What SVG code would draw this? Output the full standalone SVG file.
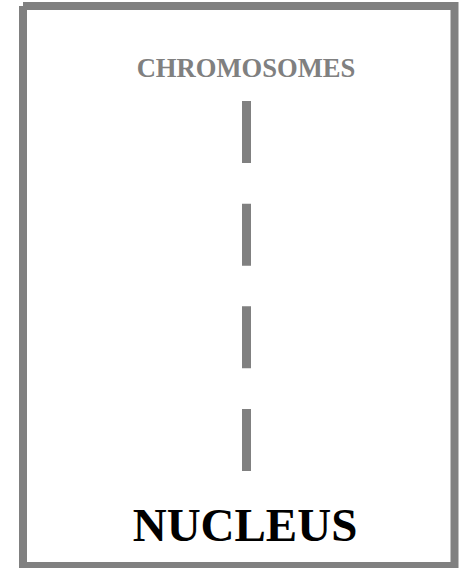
<svg xmlns="http://www.w3.org/2000/svg" width="464" height="568" viewBox="0 0 464 568">
<style>
.lbl{font-family:"Liberation Serif","Times New Roman",serif;font-weight:bold;text-anchor:middle}
.gray{fill:#808080}
</style>
<rect width="464" height="568" fill="#ffffff"/>
<g id="nucleus">
<path d="M23,6 H454.5 V566 H23 V6" fill="none" stroke="#808080" stroke-width="8"/>
<text class="lbl" x="245" y="541" font-size="47" fill="#000000">NUCLEUS</text>
</g>
<g id="chromosomes">
<text class="lbl gray" x="246" y="77" font-size="26.6">CHROMOSOMES</text>
<line x1="246.5" y1="101" x2="246.5" y2="471" stroke="#808080" stroke-width="9" stroke-dasharray="62 40.67"/>
</g>
<g id="connectors"/>
</svg>
